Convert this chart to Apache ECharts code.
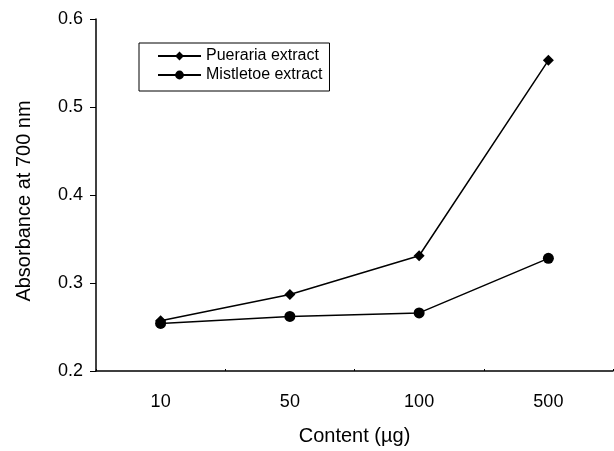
<!DOCTYPE html>
<html><head><meta charset="utf-8">
<script src="https://cdn.jsdelivr.net/npm/echarts@6/dist/echarts.min.js"></script>
<style>html,body{margin:0;padding:0;background:#fff}#c{width:614px;height:451px}</style>
</head><body><div id="c"></div>
<script>
const categories = ['10', '50', '100', '500'];
const puerariaValues = [0.257, 0.287, 0.331, 0.553];
const mistletoeValues = [0.254, 0.262, 0.266, 0.328];
const seriesNames = ['Pueraria extract', 'Mistletoe extract'];
const xAxisTitle = 'Content (µg)';
const yAxisTitle = 'Absorbance at 700 nm';

const FONT = '"Liberation Sans", Arial, sans-serif';
const chart = echarts.init(document.getElementById('c'), null, {renderer: 'canvas'});
chart.setOption({
  animation: false,
  backgroundColor: '#fff',
  textStyle: {fontFamily: FONT, color: '#000'},
  grid: {left: 96, right: 1, top: 19, bottom: 78, containLabel: false},
  legend: {
    orient: 'vertical', left: 139, top: 43,
    padding: [5, 7, 8, 18],
    borderColor: '#000', borderWidth: 1,
    itemWidth: 43, itemHeight: 11, itemGap: 3,
    textStyle: {fontFamily: FONT, fontSize: 16, color: '#000'},
    data: seriesNames
  },
  xAxis: {
    type: 'category', data: categories, boundaryGap: true,
    name: xAxisTitle, nameLocation: 'middle', nameGap: 55,
    nameTextStyle: {fontFamily: FONT, fontSize: 20, color: '#000'},
    axisLine: {lineStyle: {color: '#000', width: 1.5}},
    axisTick: {show: true, inside: true, length: 2, lineStyle: {color: '#000'}},
    axisLabel: {fontFamily: FONT, fontSize: 18, color: '#000', margin: 22},
    splitLine: {show: false}
  },
  yAxis: {
    type: 'value', min: 0.2, max: 0.6, interval: 0.1,
    name: yAxisTitle, nameLocation: 'middle', nameGap: 62, nameRotate: 90,
    nameTextStyle: {fontFamily: FONT, fontSize: 20, color: '#000', padding: [0, 12, 0, 0]},
    axisLine: {show: true, lineStyle: {color: '#000', width: 1.5}},
    axisTick: {show: true, length: 6, lineStyle: {color: '#000'}},
    axisLabel: {fontFamily: FONT, fontSize: 18, color: '#000', margin: 13,
      formatter: v => v.toFixed(1)},
    splitLine: {show: false}
  },
  series: [
    {name: seriesNames[0], type: 'line', data: puerariaValues,
     symbol: 'diamond', symbolSize: 11,
     lineStyle: {color: '#000', width: 1.5}, itemStyle: {color: '#000'}},
    {name: seriesNames[1], type: 'line', data: mistletoeValues,
     symbol: 'circle', symbolSize: 11,
     lineStyle: {color: '#000', width: 1.5}, itemStyle: {color: '#000'}}
  ]
});
</script></body></html>
